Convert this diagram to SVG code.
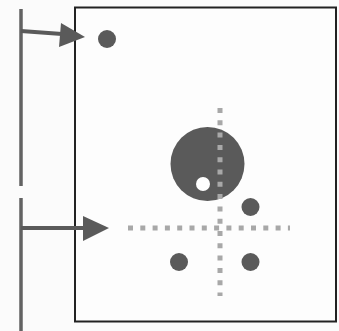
<svg xmlns="http://www.w3.org/2000/svg" width="339" height="331" viewBox="0 0 339 331">
<style>
.dot{fill:#5a5a5a}
.bar{stroke:#626262;stroke-width:3.5;fill:none}
.shaft{stroke:#5a5a5a;stroke-width:4;fill:none}
.head{fill:#5a5a5a}
.dash{stroke:#a8a8a8;stroke-width:5;fill:none;stroke-dasharray:5 7.3}
</style>
<rect width="339" height="331" fill="#fbfbfb"/>
<g id="frame"><rect x="75" y="7.5" width="261" height="314" fill="#fdfdfd" stroke="#222" stroke-width="2"/></g>
<g id="connectors">
<line class="bar" x1="21" y1="9" x2="21" y2="186"/>
<line class="bar" x1="21" y1="198" x2="21" y2="331"/>
<line class="shaft" x1="21" y1="31" x2="62" y2="34"/>
<polygon class="head" points="61,23 85,37 59,47"/>
<line class="shaft" x1="21" y1="228" x2="85" y2="228"/>
<polygon class="head" points="83,216 109,228 83,241"/>
<line class="dash" x1="128" y1="228" x2="290" y2="228"/>
</g>
<g id="top-dot"><circle class="dot" cx="107" cy="39" r="9"/></g>
<g id="big-circle"><circle class="dot" cx="207.5" cy="164" r="37"/><circle cx="203" cy="184" r="7" fill="#fff"/></g>
<g id="vertical-dash"><line class="dash" x1="220" y1="108" x2="220" y2="296"/></g>
<g id="dot-right"><circle class="dot" cx="250.5" cy="207" r="9"/></g>
<g id="dot-bl"><circle class="dot" cx="179" cy="262" r="9"/></g>
<g id="dot-br"><circle class="dot" cx="250.5" cy="262" r="9"/></g>
</svg>
